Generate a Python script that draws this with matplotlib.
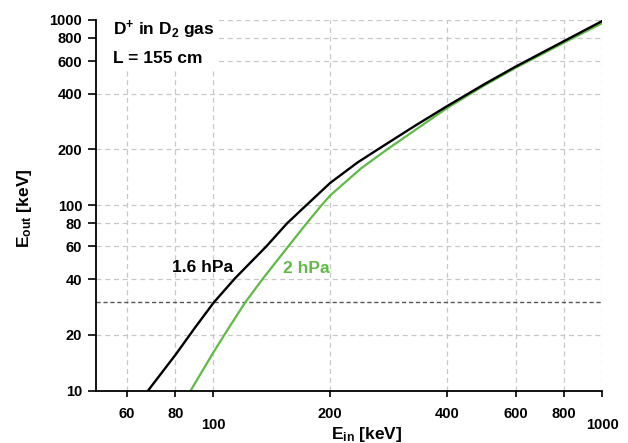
#!/usr/bin/env python3
# -*- coding: utf-8 -*-
"""E_out vs E_in for D+ ions after L = 155 cm of D2 gas (log-log)."""
import matplotlib
matplotlib.use("Agg")
import matplotlib.pyplot as plt
from matplotlib.patches import Rectangle

plt.rcParams["font.family"] = ["Liberation Sans", "DejaVu Sans"]
plt.rcParams["font.weight"] = "bold"
plt.rcParams["mathtext.fontset"] = "custom"
plt.rcParams["mathtext.rm"] = "Liberation Sans:bold"
plt.rcParams["mathtext.it"] = "Liberation Sans:bold"
plt.rcParams["mathtext.bf"] = "Liberation Sans:bold"
plt.rcParams["mathtext.default"] = "rm"

# --- data (keV) ---
ein_16 = [68, 80, 90, 100.5, 114, 137, 155, 170, 200, 235, 265, 330, 400, 500, 600, 800, 1000]
eout_16 = [10, 15.6, 22, 30, 40.5, 60, 80, 96, 132, 170, 200, 268, 343, 452, 560, 770, 985]

ein_20 = [87.5, 100, 110, 121, 134, 156, 174, 190, 200, 240, 280, 340, 400, 500, 600, 800, 1000]
eout_20 = [10, 16, 22, 30, 40, 60, 80, 100, 113, 158, 200, 265, 335, 445, 552, 755, 960]

x_ticks = [60, 80, 100, 200, 400, 600, 800, 1000]
y_ticks = [10, 20, 40, 60, 80, 100, 200, 400, 600, 800, 1000]
x_lim = (50, 1000)
y_lim = (10, 1000)
e_cut = 30  # dashed threshold

GREEN = "#5fba46"

fig = plt.figure(figsize=(6.28, 4.43), dpi=100)
ax = fig.add_axes([0.1529, 0.118, 0.8057, 0.8371])
ax.set_xscale("log")
ax.set_yscale("log")
ax.set_xlim(*x_lim)
ax.set_ylim(*y_lim)

ax.set_xticks(x_ticks)
ax.set_xticklabels([str(t) for t in x_ticks])
ax.set_yticks(y_ticks)
ax.set_yticklabels([str(t) for t in y_ticks])
ax.minorticks_off()
ax.tick_params(axis="x", length=4, width=1.2, pad=8, labelsize=10.5)
ax.tick_params(axis="y", length=6, width=1.2, pad=4, labelsize=10.5)
# 100 and 1000 sit a bit lower, like in the original
for t, v in zip(ax.xaxis.get_major_ticks(), x_ticks):
    if v in (100, 1000):
        t.set_pad(15.5)

for s in ("top", "right"):
    ax.spines[s].set_visible(False)
for s in ("left", "bottom"):
    ax.spines[s].set_linewidth(1.3)

ax.grid(True, which="major", color="#c8c8c8", linestyle=(0, (4, 3)), linewidth=0.9)
ax.axhline(e_cut, color="#555555", linestyle=(0, (3, 2)), linewidth=1.0, zorder=1.9)

# white patch hiding the grid behind the header text
ax.add_patch(Rectangle((0, 0.871), 0.241, 0.129, transform=ax.transAxes,
                       facecolor="white", edgecolor="none", zorder=1.8))

ax.plot(ein_20, eout_20, color=GREEN, linewidth=1.6, zorder=2.2)
ax.plot(ein_16, eout_16, color="black", linewidth=1.7, zorder=2.3)

ax.text(0.034, 0.959, r"D$^{+}$ in D$_{2}$ gas", transform=ax.transAxes,
        fontsize=12.5, fontweight="bold", va="baseline", zorder=3)
ax.text(0.034, 0.883, "L = 155 cm", transform=ax.transAxes,
        fontsize=12.5, fontweight="bold", va="baseline", zorder=3)
ax.text(0.150, 0.321, "1.6 hPa", transform=ax.transAxes,
        fontsize=12.5, fontweight="bold", va="baseline", color="black", zorder=3)
ax.text(0.370, 0.317, "2 hPa", transform=ax.transAxes,
        fontsize=12.5, fontweight="bold", va="baseline", color=GREEN, zorder=3)

ax.set_xlabel(r"E$_{in}$ [keV]", fontsize=12.5, fontweight="bold")
ax.xaxis.set_label_coords(0.534, -0.093)
ax.set_ylabel(r"E$_{out}$ [keV]", fontsize=12.5, fontweight="bold")
ax.yaxis.set_label_coords(-0.122, 0.493)

fig.savefig("out.png", dpi=100)
